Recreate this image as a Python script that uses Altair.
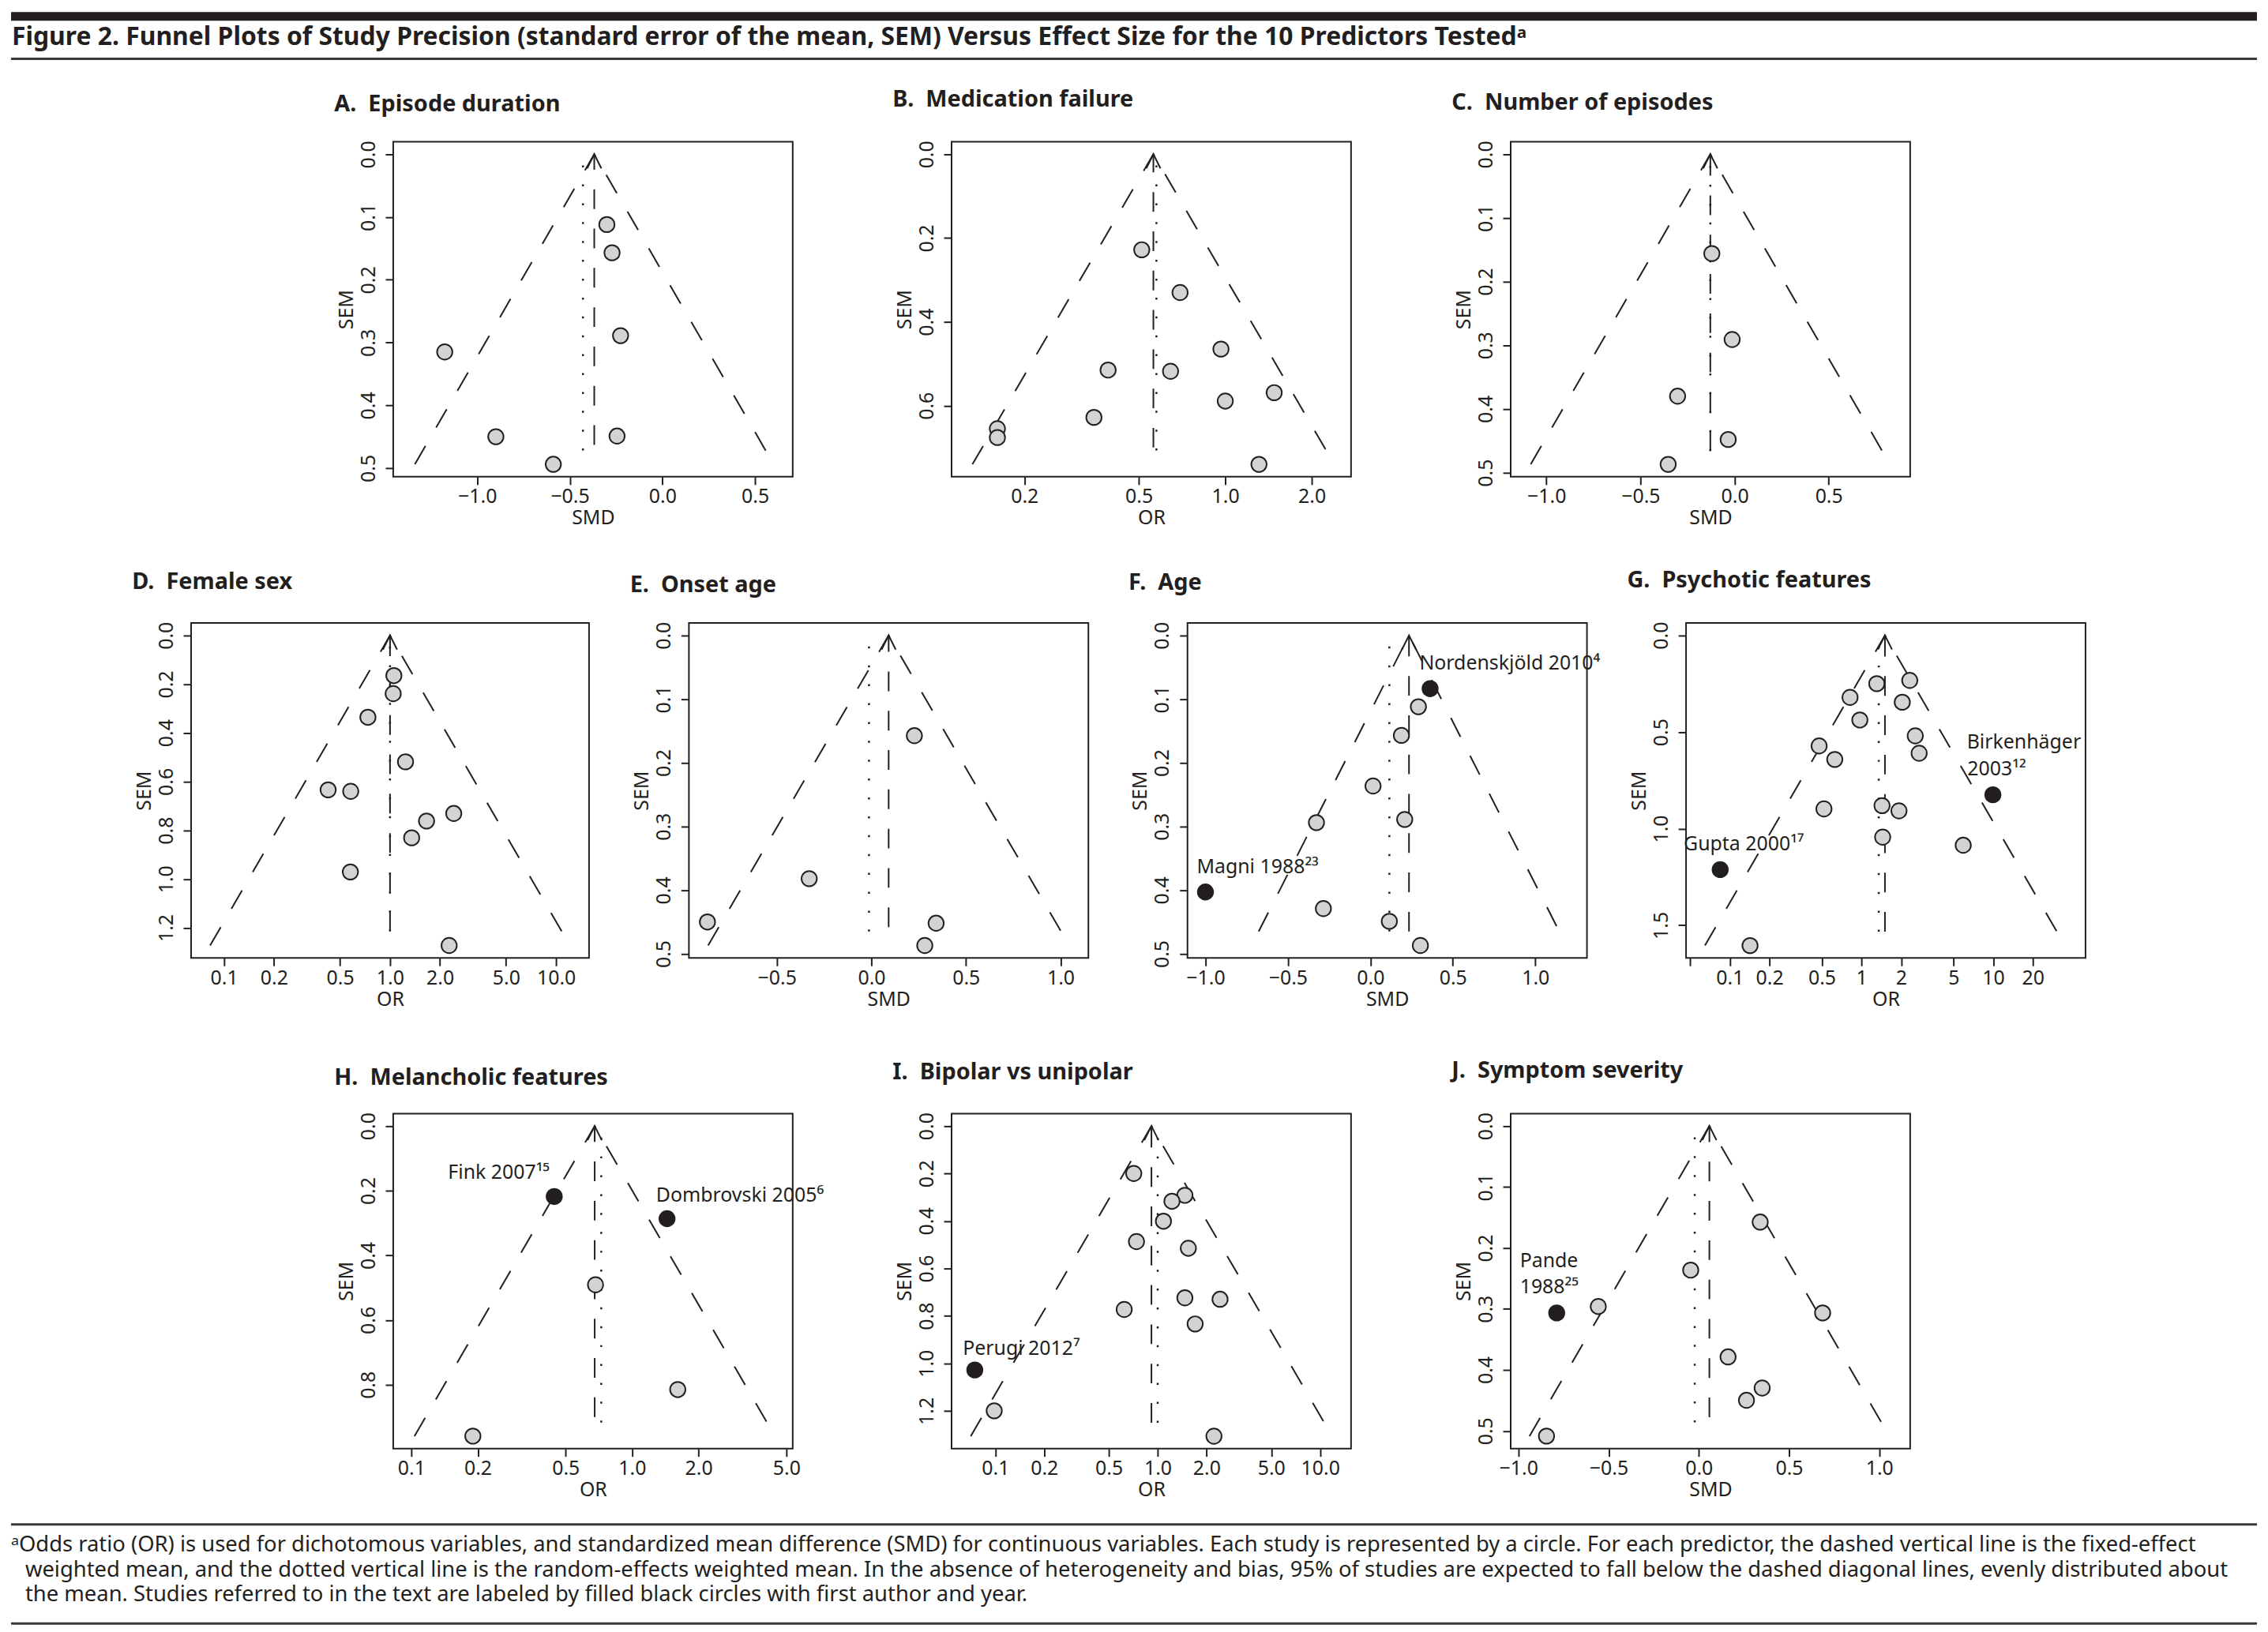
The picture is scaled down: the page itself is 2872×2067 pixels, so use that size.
import math
import altair as alt
import pandas as pd

FONT = "Noto Sans"
INK = "#231f20"
GRAY = "#d3d3d3"
ARROW = "M-0.5,1L0,0L0.5,1"

FIG_TITLE = ("Figure 2. Funnel Plots of Study Precision (standard error of the mean, SEM) "
             "Versus Effect Size for the 10 Predictors Tested\u1d43")
FOOT_1 = ("\u1d43Odds ratio (OR) is used for dichotomous variables, and standardized mean difference (SMD) "
          "for continuous variables. Each study is represented by a circle. For each predictor, the dashed "
          "vertical line is the fixed-effect")
FOOT_2 = ("weighted mean, and the dotted vertical line is the random-effects weighted mean. In the absence of "
          "heterogeneity and bias, 95% of studies are expected to fall below the dashed diagonal lines, evenly "
          "distributed about")
FOOT_3 = "the mean. Studies referred to in the text are labeled by filled black circles with first author and year."

# ---------------- data ----------------
A_title = "A.\u00a0 Episode duration"
A_x = [-0.300, -0.272, -0.226, -1.175, -0.899, -0.245, -0.589]
A_y = [0.112, 0.157, 0.289, 0.315, 0.450, 0.449, 0.494]
A_cited = [0, 0, 0, 0, 0, 0, 0]
A_fe, A_re = -0.368, -0.429
A_ends = [0.463, 0.472, 0.494]  # fixed line end, random line end, funnel end

B_title = "B.\u00a0 Medication failure"
B_x = [0.512, 0.696, 0.966, 0.391, 0.645, 1.48, 1.00, 0.349, 0.161, 0.161, 1.31]
B_y = [0.228, 0.330, 0.465, 0.515, 0.518, 0.569, 0.589, 0.628, 0.655, 0.676, 0.740]
B_cited = [0] * 11
B_fe, B_re = 0.562, 0.576
B_ends = [0.700, 0.707, 0.740]

C_title = "C.\u00a0 Number of episodes"
C_x = [-0.121, -0.013, -0.303, -0.034, -0.353]
C_y = [0.156, 0.291, 0.380, 0.448, 0.487]
C_cited = [0] * 5
C_fe, C_re = -0.129, -0.129
C_ends = [0.466, 0.466, 0.487]

D_title = "D.\u00a0 Female sex"
D_x = [1.055, 1.045, 0.736, 1.24, 0.424, 0.580, 2.42, 1.66, 1.35, 0.577, 2.27]
D_y = [0.165, 0.239, 0.336, 0.519, 0.634, 0.640, 0.731, 0.762, 0.831, 0.971, 1.273]
D_cited = [0] * 11
D_fe, D_re = 1.0, 1.0
D_ends = [1.215, 1.215, 1.273]

E_title = "E.\u00a0 Onset age"
E_x = [0.227, -0.329, -0.867, 0.342, 0.282]
E_y = [0.1575, 0.382, 0.450, 0.452, 0.487]
E_cited = [0] * 5
E_fe, E_re = 0.091, -0.013
E_ends = [0.458, 0.465, 0.487]

F_title = "F.\u00a0 Age"
F_x = [0.362, 0.291, 0.188, 0.016, -0.327, 0.208, -1.0, -0.285, 0.115, 0.303]
F_y = [0.0836, 0.112, 0.157, 0.2365, 0.294, 0.289, 0.403, 0.429, 0.449, 0.487]
F_cited = [1, 0, 0, 0, 0, 0, 1, 0, 0, 0]
F_fe, F_re = 0.234, 0.115
F_ends = [0.465, 0.465, 0.465]
F_labels = ["Nordenskjöld 2010\u2074", "Magni 1988\u00b2\u00b3"]
F_lab_x = [0.297, -1.053]
F_lab_y = [0.0539, 0.3735]

G_title = "G.\u00a0 Psychotic features"
G_x = [1.307, 2.325, 0.819, 2.04, 0.972, 2.56, 2.74, 0.477, 0.627, 9.94, 0.519, 1.432,
       1.926, 1.448, 5.92, 0.0846, 0.1426]
G_y = [0.250, 0.233, 0.321, 0.346, 0.438, 0.520, 0.610, 0.572, 0.642, 0.825, 0.898, 0.881,
       0.908, 1.044, 1.086, 1.212, 1.605]
G_cited = [0, 0, 0, 0, 0, 0, 0, 0, 0, 1, 0, 0, 0, 0, 0, 1, 0]
G_fe, G_re = 1.507, 1.353
G_ends = [1.533, 1.533, 1.605]
G_labels = ["Birkenhäger", "2003\u00b9\u00b2", "Gupta 2000\u00b9\u2077"]
G_lab_x = [6.31, 6.37, 0.0447]
G_lab_y = [0.584, 0.723, 1.111]

H_title = "H.\u00a0 Melancholic features"
H_x = [0.444, 1.44, 0.683, 1.61, 0.190]
H_y = [0.218, 0.2865, 0.491, 0.815, 0.959]
H_cited = [1, 1, 0, 0, 0]
H_fe, H_re = 0.677, 0.725
H_ends = [0.900, 0.917, 0.959]
H_labels = ["Fink 2007\u00b9\u2075", "Dombrovski 2005\u2076"]
H_lab_x = [0.1466, 1.284]
H_lab_y = [0.164, 0.234]

I_title = "I.\u00a0 Bipolar vs unipolar"
I_x = [0.712, 1.47, 1.224, 1.085, 0.740, 1.544, 1.47, 2.42, 0.622, 1.70, 0.0748, 0.0985, 2.22]
I_y = [0.200, 0.292, 0.317, 0.401, 0.487, 0.515, 0.724, 0.730, 0.773, 0.834, 1.028, 1.200, 1.307]
I_cited = [0, 0, 0, 0, 0, 0, 0, 0, 0, 0, 1, 0, 0]
I_fe, I_re = 0.915, 1.0
I_ends = [1.250, 1.250, 1.307]
I_labels = ["Perugi 2012\u2077"]
I_lab_x = [0.0631]
I_lab_y = [0.963]

J_title = "J.\u00a0 Symptom severity"
J_x = [0.340, -0.045, -0.557, -0.7875, 0.686, 0.162, 0.351, 0.264, -0.844]
J_y = [0.1576, 0.2364, 0.296, 0.3066, 0.3066, 0.3787, 0.4298, 0.4499, 0.5086]
J_cited = [0, 0, 0, 1, 0, 0, 0, 0, 0]
J_fe, J_re = 0.0585, -0.0227
J_ends = [0.4776, 0.486, 0.5086]
J_labels = ["Pande", "1988\u00b2\u2075"]
J_lab_x = [-0.9915, -0.9915]
J_lab_y = [0.2316, 0.2746]

# axis ticks
SMD_TICKS_A = [-1.0, -0.5, 0.0, 0.5]
SMD_TICKS_E = [-0.5, 0.0, 0.5, 1.0]
SMD_TICKS_F = [-1.0, -0.5, 0.0, 0.5, 1.0]
OR_TICKS_B = [0.2, 0.5, 1.0, 2.0]
OR_TICKS_D = [0.1, 0.2, 0.5, 1.0, 2.0, 5.0, 10.0]
OR_TICKS_G = [0.05, 0.1, 0.2, 0.5, 1, 2, 5, 10, 20]
OR_TICKS_H = [0.1, 0.2, 0.5, 1.0, 2.0, 5.0]
SEM_05 = [0.0, 0.1, 0.2, 0.3, 0.4, 0.5]
SEM_06 = [0.0, 0.2, 0.4, 0.6]
SEM_08 = [0.0, 0.2, 0.4, 0.6, 0.8]
SEM_12 = [0.0, 0.2, 0.4, 0.6, 0.8, 1.0, 1.2]
SEM_15 = [0.0, 0.5, 1.0, 1.5]

PANEL_H = 426


def panel(title, metric, xs, ys, cited, fe, re, ends, xdom, ydom, xticks, yticks,
          width, toff, labels=None, lab_x=None, lab_y=None, labexpr=None):
    log = metric == "OR"
    if log:
        xsc = alt.Scale(type="log", domain=xdom, nice=False)
    else:
        xsc = alt.Scale(domain=xdom, nice=False, zero=False)
    ysc = alt.Scale(domain=ydom, reverse=True, nice=False, zero=False)
    if labexpr:
        xax = alt.Axis(values=xticks, title=metric, labelExpr=labexpr)
    else:
        xax = alt.Axis(values=xticks, title=metric, format=".1f")
    yax = alt.Axis(values=yticks, title="SEM", format=".1f")

    def enc(ch):
        return ch.encode(x=alt.X("x:Q", scale=xsc, axis=xax), y=alt.Y("y:Q", scale=ysc, axis=yax))

    fe_end, re_end, f_end = ends
    if log:
        lo, hi = fe * math.exp(-1.96 * f_end), fe * math.exp(1.96 * f_end)
    else:
        lo, hi = fe - 1.96 * f_end, fe + 1.96 * f_end
    funnel = enc(alt.Chart(pd.DataFrame({"x": [lo, fe, hi], "y": [f_end, 0.0, f_end]}))
                 .mark_line(color=INK, strokeWidth=2, strokeDash=[27, 27]))
    re_rule = enc(alt.Chart(pd.DataFrame({"x": [re], "y": [re_end], "y2": [0.0]}))
                  .mark_rule(color=INK, strokeWidth=2.5, strokeDash=[2.5, 21.5])).encode(y2="y2:Q")
    fe_rule = enc(alt.Chart(pd.DataFrame({"x": [fe], "y": [fe_end], "y2": [0.0]}))
                  .mark_rule(color=INK, strokeWidth=2, strokeDash=[25, 25])).encode(y2="y2:Q")
    arrow = enc(alt.Chart(pd.DataFrame({"x": [fe], "y": [0.0]}))
                .mark_point(shape=ARROW, size=1300, filled=False, color=INK, strokeWidth=2, opacity=1))
    kinds = ["cited" if c else "study" for c in cited]
    pts = enc(alt.Chart(pd.DataFrame({"x": xs, "y": ys, "kind": kinds}))
              .mark_point(shape="circle", filled=True, size=380, stroke=INK, strokeWidth=2, opacity=1)
              ).encode(fill=alt.Fill("kind:N", scale=alt.Scale(domain=["study", "cited"], range=[GRAY, INK]),
                                     legend=None))
    layers = [funnel, re_rule, fe_rule, arrow, pts]
    if labels:
        txt = enc(alt.Chart(pd.DataFrame({"x": lab_x, "y": lab_y, "t": labels}))
                  .mark_text(align="left", baseline="alphabetic", font=FONT, fontSize=25, color=INK)
                  ).encode(text="t:N")
        layers.append(txt)
    return alt.layer(*layers).properties(
        width=width, height=PANEL_H,
        title=alt.TitleParams(text=title, anchor="start", frame="group", dx=-75, offset=toff,
                              baseline="alphabetic", font=FONT, fontSize=29, fontWeight="bold", color=INK),
    )


pA = panel(A_title, "SMD", A_x, A_y, A_cited, A_fe, A_re, A_ends, [-1.453, 0.703], [-0.0198, 0.5138],
           SMD_TICKS_A, SEM_05, 508, 8)
pB = panel(B_title, "OR", B_x, B_y, B_cited, B_fe, B_re, B_ends, [0.1115, 2.74], [-0.0296, 0.7696],
           OR_TICKS_B, SEM_06, 508, 14)
pC = panel(C_title, "SMD", C_x, C_y, C_cited, C_fe, C_re, C_ends, [-1.190, 0.933], [-0.0195, 0.5065],
           SMD_TICKS_A, SEM_05, 508, 10)
pD = panel(D_title, "OR", D_x, D_y, D_cited, D_fe, D_re, D_ends, [0.0634, 15.8], [-0.051, 1.324],
           OR_TICKS_D, SEM_12, 506, 12)
pE = panel(E_title, "SMD", E_x, E_y, E_cited, E_fe, E_re, E_ends, [-0.965, 1.147], [-0.0195, 0.5065],
           SMD_TICKS_E, SEM_05, 508, 8)
pF = panel(F_title, "SMD", F_x, F_y, F_cited, F_fe, F_re, F_ends, [-1.109, 1.313], [-0.0195, 0.5065],
           SMD_TICKS_F, SEM_05, 508, 11, F_labels, F_lab_x, F_lab_y)
pG = panel(G_title, "OR", G_x, G_y, G_cited, G_fe, G_re, G_ends, [0.0466, 50.2], [-0.064, 1.669],
           OR_TICKS_G, SEM_15, 508, 14, G_labels, G_lab_x, G_lab_y,
           labexpr="datum.value < 0.07 ? '' : format(datum.value, '~g')")
pH = panel(H_title, "OR", H_x, H_y, H_cited, H_fe, H_re, H_ends, [0.0828, 5.34], [-0.0384, 0.9974],
           OR_TICKS_H, SEM_08, 508, 6, H_labels, H_lab_x, H_lab_y)
pI = panel(I_title, "OR", I_x, I_y, I_cited, I_fe, I_re, I_ends, [0.0538, 15.5], [-0.0523, 1.359],
           OR_TICKS_D, SEM_12, 508, 13, I_labels, I_lab_x, I_lab_y)
pJ = panel(J_title, "SMD", J_x, J_y, J_cited, J_fe, J_re, J_ends, [-1.0425, 1.171], [-0.0203, 0.529],
           SMD_TICKS_F, SEM_05, 508, 15, J_labels, J_lab_x, J_lab_y)

ONE = pd.DataFrame({"v": [0]})
NOVIEW = alt.ViewBackground(strokeOpacity=0)


def gap(w):
    return (alt.Chart(ONE).mark_point(opacity=0)
            .encode(x=alt.value(0), y=alt.value(0))
            .properties(width=w, height=1, view=NOVIEW))


def lead(w, above, below):
    # invisible (white) guide that fixes the row's extent above and below the panel frames
    return (alt.Chart(ONE).mark_rule(color="white", strokeWidth=1)
            .encode(x=alt.value(0), y=alt.value(-above), y2=alt.value(PANEL_H + below))
            .properties(width=w, height=PANEL_H, view=NOVIEW))


def hrule(y, width, color):
    return alt.Chart(ONE).mark_rule(color=color, strokeWidth=width).encode(
        x=alt.value(0), x2=alt.value(2856), y=alt.value(y))


def text_at(x, y, s, size, weight="normal"):
    return alt.Chart(ONE).mark_text(text=s, align="left", baseline="alphabetic", font=FONT,
                                    fontSize=size, fontWeight=weight, color=INK).encode(
        x=alt.value(x), y=alt.value(y))


header = alt.layer(
    hrule(8.5, 11, INK),
    text_at(1, 45, FIG_TITLE, 32, "bold"),
    hrule(62.5, 3, "#3a3a3a"),
).properties(width=2840, height=67, view=NOVIEW)

footer = alt.layer(
    hrule(1.5, 3, "#3a3a3a"),
    text_at(0, 36, FOOT_1, 27.5),
    text_at(18, 68, FOOT_2, 27.5),
    text_at(18, 99, FOOT_3, 27.5),
    hrule(127.5, 3, "#3a3a3a"),
).properties(width=2840, height=130, view=NOVIEW)

row1 = alt.hconcat(lead(486, 100, 84), pA, gap(202), pB, gap(203), pC, spacing=0, bounds="flush")
row2 = alt.hconcat(lead(229, 100, 96), pD, gap(127), pE, gap(126), pF, gap(126), pG, spacing=0, bounds="flush")
row3 = alt.hconcat(lead(486, 100, 94), pH, gap(202), pI, gap(203), pJ, spacing=0, bounds="flush")

chart = alt.vconcat(
    header, row1, row2, row3, footer, spacing=0, padding=0,
).configure(
    font=FONT
).configure_view(
    stroke=INK, strokeWidth=2
).configure_axis(
    labelFont=FONT, labelFontSize=25, labelColor=INK,
    titleFont=FONT, titleFontSize=25, titleFontWeight="normal", titleColor=INK,
    tickColor=INK, tickWidth=2, tickSize=10, domain=False, grid=False,
    labelOverlap=False, labelFlush=False,
).configure_axisLeft(
    labelAngle=270, labelAlign="center", labelBaseline="alphabetic", labelPadding=14, titlePadding=3,
).configure_axisBottom(
    labelPadding=3, titlePadding=2,
)

chart.save("out.html", embed_options={"renderer": "svg", "actions": False})
